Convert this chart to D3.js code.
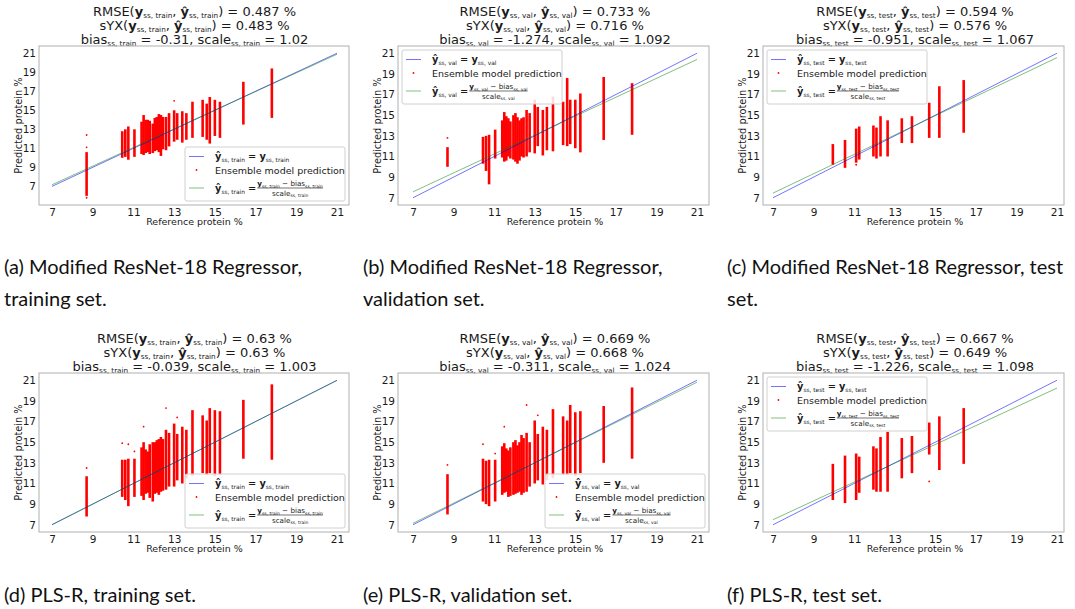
<!DOCTYPE html>
<html>
<head>
<meta charset="utf-8">
<script src="https://cdn.jsdelivr.net/npm/d3@7"></script>
<style>
  body { margin: 0; background: #fff; }
  svg { display: block; }
  text { font-family: "DejaVu Sans", sans-serif; fill: #1a1a1a; }
  .caption { font-family: Lato, sans-serif; font-size: 20px; fill: #111; }
</style>
</head>
<body>
<svg id="fig" width="1075" height="609"></svg>
<script>
// tick labels shared by every panel
const xTicks = [7, 9, 11, 13, 15, 17, 19, 21];
const yTicks = [7, 9, 11, 13, 15, 17, 19, 21];

// reference protein values of the sample groups (vertical strips)
const refTrainVal = [8.7, 10.45, 10.6, 10.75, 11.05, 11.4, 11.5, 11.6, 11.7, 11.8, 11.95, 12.05, 12.15, 12.25,
  12.35, 12.45, 12.6, 12.75, 13.0, 13.15, 13.4, 13.6, 13.9, 14.4, 14.6, 14.75, 15.0, 15.25, 16.4, 17.8];
const refTest = [9.95, 10.55, 11.1, 11.25, 11.95, 12.1, 12.3, 12.65, 13.35, 13.85, 14.7, 15.2, 16.4];

// predicted range of each strip (low / high) and isolated outliers, per panel
const lowA = [6.0, 10.0, 10.1, 9.8, 10.1, 10.4, 10.3, 10.5, 10.6, 10.4, 10.5, 10.7, 10.8, 10.6, 10.2, 10.9, 10.8, 11.2, 11.7, 11.9, 11.6, 11.9, 12.1, 12.2, 11.9, 11.5, 12.3, 12.1, 13.5, 14.2];
const highA = [10.6, 12.8, 13.0, 13.3, 13.0, 13.8, 14.5, 14.0, 14.0, 13.9, 13.6, 14.2, 14.3, 14.6, 14.5, 14.3, 14.3, 14.7, 15.0, 14.7, 14.9, 14.7, 15.9, 16.1, 15.7, 16.4, 16.1, 15.9, 18.0, 19.4];
const outA = [[8.7, 12.4], [8.7, 11.1], [8.7, 5.8], [13.0, 16.0]];

const lowB = [10.0, 10.3, 9.6, 8.3, 10.8, 10.9, 10.5, 10.6, 11.0, 10.8, 10.7, 10.5, 10.3, 10.6, 11.0, 10.9, 11.0, 11.4, 11.3, 12.0, 11.1, 11.6, 11.5, 12.1, 12.0, 12.2, 11.8, 11.4, 12.6, 13.1];
const highB = [11.9, 12.9, 13.0, 13.1, 13.6, 14.5, 15.3, 14.9, 14.7, 14.4, 15.0, 15.2, 14.8, 14.5, 14.7, 14.8, 15.5, 15.2, 16.5, 15.8, 15.5, 15.8, 16.8, 16.3, 18.6, 16.5, 16.5, 17.1, 18.7, 18.1];
const outB = [[8.7, 12.8]];

const lowC = [10.2, 9.9, 10.4, 10.7, 11.0, 10.8, 11.0, 11.0, 12.3, 12.3, 12.8, 12.8, 13.3];
const highC = [12.2, 12.6, 13.7, 13.9, 14.0, 13.8, 14.9, 14.5, 14.7, 14.9, 16.2, 17.8, 18.4];
const outC = [[11.1, 10.2]];

const lowD = [7.8, 9.7, 9.4, 8.8, 9.7, 9.8, 9.4, 10.0, 10.1, 9.6, 9.25, 10.0, 10.1, 9.9, 10.2, 10.3, 10.4, 10.7, 10.7, 11.3, 11.0, 11.5, 11.7, 12.0, 11.8, 12.0, 11.7, 11.8, 13.4, 13.3];
const highD = [11.7, 13.3, 13.3, 13.4, 13.4, 14.5, 15.0, 14.3, 14.1, 14.8, 15.0, 15.0, 15.2, 15.3, 15.5, 15.3, 16.2, 15.9, 16.8, 15.8, 16.5, 16.2, 18.1, 17.6, 17.1, 18.3, 18.1, 18.0, 19.1, 20.6];
const outD = [[8.7, 12.5], [10.45, 14.9], [10.75, 14.8], [11.05, 14.1], [11.5, 16.5], [12.6, 18.3], [13.15, 17.4]];

const lowE = [8.0, 9.25, 9.0, 8.8, 9.25, 9.9, 10.1, 10.2, 9.7, 9.8, 9.9, 10.0, 10.1, 10.2, 9.9, 10.1, 10.2, 10.7, 11.0, 11.3, 10.9, 11.3, 11.5, 11.8, 11.8, 12.0, 11.7, 12.0, 13.0, 13.4];
const highE = [11.9, 13.4, 13.2, 13.3, 13.3, 14.6, 14.9, 14.4, 14.2, 14.5, 15.0, 15.2, 14.7, 15.0, 15.7, 15.4, 15.9, 15.0, 17.1, 15.8, 16.5, 16.2, 18.2, 17.5, 17.1, 18.6, 17.9, 18.0, 18.5, 20.3];
const outE = [[8.7, 12.8], [10.45, 14.8], [11.05, 13.9], [11.5, 16.5], [12.6, 18.6], [13.15, 17.6]];

const lowF = [9.4, 9.1, 9.4, 10.1, 10.4, 10.2, 10.2, 10.2, 11.5, 12.0, 13.8, 12.3, 12.9];
const highF = [12.9, 13.7, 13.9, 13.6, 14.6, 14.4, 15.5, 16.0, 15.4, 15.6, 16.9, 17.5, 18.3];
const outF = [[12.3, 16.3], [14.7, 11.2]];

// per panel statistics shown in titles
const setNames = ["train", "val", "test", "train", "val", "test"];
const rmseVals = ["0.487", "0.733", "0.594", "0.63", "0.669", "0.667"];
const syxVals = ["0.483", "0.716", "0.576", "0.63", "0.668", "0.649"];
const biasVals = [-0.31, -1.274, -0.951, -0.039, -0.311, -1.226];
const scaleVals = [1.02, 1.092, 1.067, 1.003, 1.024, 1.098];
const legendSpots = ["lr", "ul", "ul", "lr", "lr", "ul"];
const captionLines = [
  ["(a) Modified ResNet-18 Regressor,", "training set."],
  ["(b) Modified ResNet-18 Regressor,", "validation set."],
  ["(c) Modified ResNet-18 Regressor, test", "set."],
  ["(d) PLS-R, training set."],
  ["(e) PLS-R, validation set."],
  ["(f) PLS-R, test set."]
];

const panels = [
  {ref: refTrainVal, low: lowA, high: highA, out: outA},
  {ref: refTrainVal, low: lowB, high: highB, out: outB},
  {ref: refTest, low: lowC, high: highC, out: outC},
  {ref: refTrainVal, low: lowD, high: highD, out: outD},
  {ref: refTrainVal, low: lowE, high: highE, out: outE},
  {ref: refTest, low: lowF, high: highF, out: outF}
];

// layout
const cols = [
  {x0: 39, x1: 349, a: 52, b: 337, cap: 4},
  {x0: 398, x1: 709, a: 413, b: 697, cap: 363},
  {x0: 763, x1: 1064, a: 773, b: 1057, cap: 727}
];
const rows = [
  {y0: 46, y1: 205, off: 0},
  {y0: 373, y1: 532, off: 327}
];
const blue = "rgba(0,0,255,0.55)";
const green = "rgba(0,128,0,0.5)";

const svg = d3.select("#fig");

// writes plain / bold / subscript pieces into a text node
function rich(textSel, parts, size, subRatio) {
  const sr = subRatio || 0.56;
  const drop = size * 0.22;
  let down = false;
  parts.forEach(([str, kind]) => {
    const ts = textSel.append("tspan").text(str);
    if (kind === "sub") {
      ts.attr("font-size", size * sr).attr("dy", down ? 0 : drop);
      down = true;
    } else {
      ts.attr("font-size", size).attr("dy", down ? -drop : 0);
      down = false;
      if (kind === "b") ts.attr("font-weight", "bold");
    }
  });
  return textSel;
}

panels.forEach((p, i) => {
  const c = cols[i % 3], r = rows[Math.floor(i / 3)];
  const s = "ss, " + setNames[i];
  const g = svg.append("g");

  const allY = p.low.concat(p.high, p.out.map(d => d[1]), [7, 21]);
  const yMin = d3.min(allY), yMax = d3.max(allY);
  const pad = (yMax - yMin) * 0.05;

  const x = d3.scaleLinear().domain([7, 21]).range([c.a, c.b]);
  const y = d3.scaleLinear().domain([yMin - pad, yMax + pad]).range([r.y1, r.y0]);

  // titles
  const cx = (c.a + c.b) / 2;
  const tsize = 13;
  rich(g.append("text").attr("x", cx).attr("y", r.off + 15.5).attr("text-anchor", "middle"),
    [["RMSE(", ""], ["y", "b"], [s, "sub"], [", ", ""], ["ŷ", "b"], [s, "sub"], [") = " + rmseVals[i] + " %", ""]], tsize);
  rich(g.append("text").attr("x", cx).attr("y", r.off + 29.5).attr("text-anchor", "middle"),
    [["sYX(", ""], ["y", "b"], [s, "sub"], [", ", ""], ["ŷ", "b"], [s, "sub"], [") = " + syxVals[i] + " %", ""]], tsize);
  rich(g.append("text").attr("x", cx).attr("y", r.off + 43.5).attr("text-anchor", "middle"),
    [["bias", ""], [s, "sub"], [" = " + biasVals[i] + ", scale", ""], [s, "sub"], [" = " + scaleVals[i], ""]], tsize);

  // frame
  g.append("rect").attr("x", c.x0).attr("y", r.y0)
    .attr("width", c.x1 - c.x0).attr("height", r.y1 - r.y0)
    .attr("fill", "none").attr("stroke", "#b0b0b0").attr("stroke-width", 1);

  // axes
  const xa = g.append("g").attr("transform", `translate(0,${r.y1})`)
    .call(d3.axisBottom(x).tickValues(xTicks).tickSize(0).tickPadding(4).tickFormat(d3.format("d")));
  const ya = g.append("g").attr("transform", `translate(${c.x0},0)`)
    .call(d3.axisLeft(y).tickValues(yTicks).tickSize(0).tickPadding(3).tickFormat(d3.format("d")));
  [xa, ya].forEach(a => {
    a.select(".domain").remove();
    a.selectAll("text").attr("font-size", 10.5).attr("font-family", "DejaVu Sans").attr("fill", "#1a1a1a");
  });
  g.append("text").attr("x", cx).attr("y", r.y1 + 20).attr("text-anchor", "middle")
    .attr("font-size", 9.5).text("Reference protein %");
  g.append("text").attr("transform", `translate(${c.x0 - 17},${(r.y0 + r.y1) / 2}) rotate(-90)`)
    .attr("text-anchor", "middle").attr("font-size", 9.8).text("Predicted protein %");

  // prediction strips and stray points
  g.append("g").selectAll("line")
    .data(d3.zip(p.ref, p.low, p.high))
    .join("line")
    .attr("x1", d => x(d[0])).attr("x2", d => x(d[0]))
    .attr("y1", d => y(d[1])).attr("y2", d => y(d[2]))
    .attr("stroke", "red").attr("stroke-width", 2.6);
  g.append("g").selectAll("circle")
    .data(p.out)
    .join("circle")
    .attr("cx", d => x(d[0])).attr("cy", d => y(d[1])).attr("r", 0.9)
    .attr("fill", "red");

  // identity and bias/scale corrected lines
  const line = d3.line().x(d => x(d[0])).y(d => y(d[1]));
  g.append("path").datum([[7, 7], [21, 21]]).attr("d", line)
    .attr("stroke", blue).attr("stroke-width", 1).attr("fill", "none");
  g.append("path").datum([7, 21].map(v => [v, (v - biasVals[i]) / scaleVals[i]])).attr("d", line)
    .attr("stroke", green).attr("stroke-width", 1).attr("fill", "none");

  // legend
  const lw = 160, lh = 54;
  const lx = legendSpots[i] === "lr" ? c.x1 - 4 - lw : c.x0 + 4;
  const ly = legendSpots[i] === "lr" ? r.y1 - 4 - lh : r.y0 + 4;
  const lg = g.append("g").attr("transform", `translate(${lx},${ly})`);
  lg.append("rect").attr("width", lw).attr("height", lh).attr("rx", 2)
    .attr("fill", "rgba(255,255,255,0.85)").attr("stroke", "#d0d0d0");
  const ls = 9.8, tx = 30;
  lg.append("line").attr("x1", 4).attr("x2", 19).attr("y1", 9.5).attr("y2", 9.5).attr("stroke", blue);
  rich(lg.append("text").attr("x", tx).attr("y", 13),
    [["ŷ", "b"], [s, "sub"], [" = ", ""], ["y", "b"], [s, "sub"]], ls, 0.6);
  lg.append("circle").attr("cx", 11.5).attr("cy", 23).attr("r", 0.9).attr("fill", "red");
  lg.append("text").attr("x", tx).attr("y", 26.5).attr("font-size", 9.5).text("Ensemble model prediction");
  lg.append("line").attr("x1", 4).attr("x2", 19).attr("y1", 41).attr("y2", 41).attr("stroke", green);
  const lhs = rich(lg.append("text").attr("x", tx).attr("y", 44.5),
    [["ŷ", "b"], [s, "sub"], [" = ", ""]], ls, 0.6);
  const nx = tx + lhs.node().getComputedTextLength() + 1;
  const fs = 7.2;
  const num = rich(lg.append("text").attr("x", nx).attr("y", 39),
    [["y", "b"], [s, "sub"], [" − bias", ""], [s, "sub"]], fs, 0.62);
  const nw = num.node().getComputedTextLength();
  lg.append("line").attr("x1", nx).attr("x2", nx + nw).attr("y1", 41).attr("y2", 41)
    .attr("stroke", "#1a1a1a").attr("stroke-width", 0.6);
  rich(lg.append("text").attr("x", nx + nw / 2).attr("y", 48.5).attr("text-anchor", "middle"),
    [["scale", ""], [s, "sub"]], fs, 0.62);

  // caption
  captionLines[i].forEach((ln, k) => {
    svg.append("text").attr("class", "caption")
      .attr("x", c.cap).attr("y", (r.off ? 602 : 274) + k * 32).text(ln);
  });
});
</script>
</body>
</html>
